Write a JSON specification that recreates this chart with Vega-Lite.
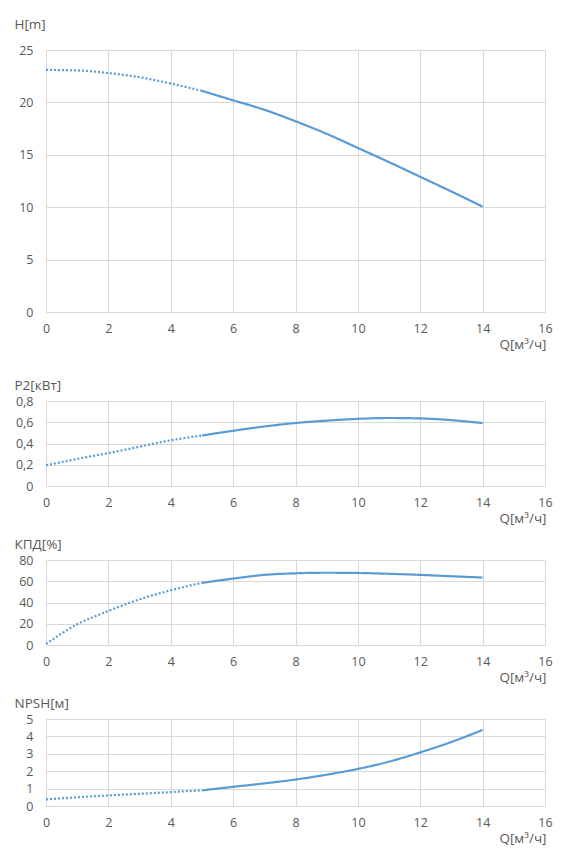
{
  "$schema": "https://vega.github.io/schema/vega-lite/v6.json",
  "background": "white",
  "padding": {"left": 14, "top": 17, "right": 5, "bottom": 5},
  "config": {
    "view": {"stroke": null},
    "font": "Open Sans",
    "axis": {
      "grid": true,
      "gridColor": "#d9d9d9",
      "gridWidth": 1,
      "domain": false,
      "ticks": false,
      "labelColor": "#595959",
      "titleColor": "#595959",
      "labelFont": "Open Sans",
      "titleFont": "Open Sans",
      "labelFontSize": 12.5,
      "titleFontSize": 13.5,
      "titleFontWeight": "normal"
    },
    "axisX": {
      "labelFlush": false,
      "labelPadding": 10,
      "titleAlign": "right",
      "titleBaseline": "middle",
      "titleAnchor": null,
      "titleX": 500,
      "titleY": 32
    },
    "axisY": {
      "labelPadding": 13,
      "titleAngle": 0,
      "titleAlign": "left",
      "titleBaseline": "middle",
      "titleAnchor": null,
      "titleX": -32
    },
    "line": {"interpolate": "monotone", "strokeWidth": 2.2, "color": "#5b9bd5"}
  },
  "datasets": {
    "pump": [
      {"curve": "H", "part": "dot", "Q": 0, "v": 23.1},
      {"curve": "H", "part": "dot", "Q": 1, "v": 23.05},
      {"curve": "H", "part": "dot", "Q": 2, "v": 22.8},
      {"curve": "H", "part": "dot", "Q": 3, "v": 22.4},
      {"curve": "H", "part": "dot", "Q": 4, "v": 21.8},
      {"curve": "H", "part": "dot", "Q": 5, "v": 21.1},
      {"curve": "H", "part": "solid", "Q": 5, "v": 21.1},
      {"curve": "H", "part": "solid", "Q": 6, "v": 20.2},
      {"curve": "H", "part": "solid", "Q": 7, "v": 19.3},
      {"curve": "H", "part": "solid", "Q": 8, "v": 18.2},
      {"curve": "H", "part": "solid", "Q": 9, "v": 17.0},
      {"curve": "H", "part": "solid", "Q": 10, "v": 15.65},
      {"curve": "H", "part": "solid", "Q": 11, "v": 14.3},
      {"curve": "H", "part": "solid", "Q": 12, "v": 12.9},
      {"curve": "H", "part": "solid", "Q": 13, "v": 11.5},
      {"curve": "H", "part": "solid", "Q": 14, "v": 10.05},
      {"curve": "P2", "part": "dot", "Q": 0, "v": 0.195},
      {"curve": "P2", "part": "dot", "Q": 1, "v": 0.255},
      {"curve": "P2", "part": "dot", "Q": 2, "v": 0.31},
      {"curve": "P2", "part": "dot", "Q": 3, "v": 0.37},
      {"curve": "P2", "part": "dot", "Q": 4, "v": 0.43},
      {"curve": "P2", "part": "dot", "Q": 5, "v": 0.475},
      {"curve": "P2", "part": "solid", "Q": 5, "v": 0.475},
      {"curve": "P2", "part": "solid", "Q": 6, "v": 0.52},
      {"curve": "P2", "part": "solid", "Q": 7, "v": 0.56},
      {"curve": "P2", "part": "solid", "Q": 8, "v": 0.593},
      {"curve": "P2", "part": "solid", "Q": 9, "v": 0.615},
      {"curve": "P2", "part": "solid", "Q": 10, "v": 0.632},
      {"curve": "P2", "part": "solid", "Q": 11, "v": 0.64},
      {"curve": "P2", "part": "solid", "Q": 12, "v": 0.636},
      {"curve": "P2", "part": "solid", "Q": 13, "v": 0.62},
      {"curve": "P2", "part": "solid", "Q": 14, "v": 0.592},
      {"curve": "KPD", "part": "dot", "Q": 0, "v": 1},
      {"curve": "KPD", "part": "dot", "Q": 1, "v": 19.5},
      {"curve": "KPD", "part": "dot", "Q": 2, "v": 32},
      {"curve": "KPD", "part": "dot", "Q": 3, "v": 43},
      {"curve": "KPD", "part": "dot", "Q": 4, "v": 51.5},
      {"curve": "KPD", "part": "dot", "Q": 5, "v": 58.5},
      {"curve": "KPD", "part": "solid", "Q": 5, "v": 58.5},
      {"curve": "KPD", "part": "solid", "Q": 6, "v": 62.5},
      {"curve": "KPD", "part": "solid", "Q": 7, "v": 66},
      {"curve": "KPD", "part": "solid", "Q": 8, "v": 67.5},
      {"curve": "KPD", "part": "solid", "Q": 9, "v": 68},
      {"curve": "KPD", "part": "solid", "Q": 10, "v": 67.8},
      {"curve": "KPD", "part": "solid", "Q": 11, "v": 67},
      {"curve": "KPD", "part": "solid", "Q": 12, "v": 66},
      {"curve": "KPD", "part": "solid", "Q": 13, "v": 64.7},
      {"curve": "KPD", "part": "solid", "Q": 14, "v": 63.5},
      {"curve": "NPSH", "part": "dot", "Q": 0, "v": 0.38},
      {"curve": "NPSH", "part": "dot", "Q": 1, "v": 0.5},
      {"curve": "NPSH", "part": "dot", "Q": 2, "v": 0.61},
      {"curve": "NPSH", "part": "dot", "Q": 3, "v": 0.7},
      {"curve": "NPSH", "part": "dot", "Q": 4, "v": 0.8},
      {"curve": "NPSH", "part": "dot", "Q": 5, "v": 0.9},
      {"curve": "NPSH", "part": "solid", "Q": 5, "v": 0.9},
      {"curve": "NPSH", "part": "solid", "Q": 6, "v": 1.1},
      {"curve": "NPSH", "part": "solid", "Q": 7, "v": 1.3},
      {"curve": "NPSH", "part": "solid", "Q": 8, "v": 1.52},
      {"curve": "NPSH", "part": "solid", "Q": 9, "v": 1.8},
      {"curve": "NPSH", "part": "solid", "Q": 10, "v": 2.13},
      {"curve": "NPSH", "part": "solid", "Q": 11, "v": 2.55},
      {"curve": "NPSH", "part": "solid", "Q": 12, "v": 3.08},
      {"curve": "NPSH", "part": "solid", "Q": 13, "v": 3.68},
      {"curve": "NPSH", "part": "solid", "Q": 14, "v": 4.37}
    ]
  },
  "data": {"name": "pump"},
  "spacing": 27,
  "vconcat": [
    {
      "width": 499,
      "height": 262,
      "transform": [{"filter": "datum.curve == 'H'"}],
      "mark": {"type": "line"},
      "encoding": {
        "x": {"field": "Q", "type": "quantitative", "scale": {"domain": [0, 16]},
              "axis": {"values": [0, 2, 4, 6, 8, 10, 12, 14, 16], "title": "Q[м³/ч]"}},
        "y": {"field": "v", "type": "quantitative", "scale": {"domain": [0, 25]},
              "axis": {"values": [0, 5, 10, 15, 20, 25], "title": "H[m]", "titleY": -26}},
        "strokeDash": {"field": "part", "type": "nominal", "legend": null,
                       "scale": {"domain": ["dot", "solid"], "range": [[2, 2], [1, 0]]}}
      }
    },
    {
      "spacing": 12,
      "vconcat": [
        {
          "width": 499,
          "height": 85,
          "transform": [{"filter": "datum.curve == 'P2'"}],
          "mark": {"type": "line"},
          "encoding": {
            "x": {"field": "Q", "type": "quantitative", "scale": {"domain": [0, 16]},
                  "axis": {"values": [0, 2, 4, 6, 8, 10, 12, 14, 16], "title": "Q[м³/ч]"}},
            "y": {"field": "v", "type": "quantitative", "scale": {"domain": [0, 0.8]},
                  "axis": {"values": [0, 0.2, 0.4, 0.6, 0.8], "title": "P2[кВт]", "titleY": -16,
                           "labelExpr": "datum.value == 0 ? '0' : replace(format(datum.value, '.1f'), '.', ',')"}},
            "strokeDash": {"field": "part", "type": "nominal", "legend": null,
                           "scale": {"domain": ["dot", "solid"], "range": [[2, 2], [1, 0]]}}
          }
        },
        {
          "width": 499,
          "height": 85,
          "transform": [{"filter": "datum.curve == 'KPD'"}],
          "mark": {"type": "line"},
          "encoding": {
            "x": {"field": "Q", "type": "quantitative", "scale": {"domain": [0, 16]},
                  "axis": {"values": [0, 2, 4, 6, 8, 10, 12, 14, 16], "title": "Q[м³/ч]"}},
            "y": {"field": "v", "type": "quantitative", "scale": {"domain": [0, 80]},
                  "axis": {"values": [0, 20, 40, 60, 80], "title": "КПД[%]", "titleY": -16}},
            "strokeDash": {"field": "part", "type": "nominal", "legend": null,
                           "scale": {"domain": ["dot", "solid"], "range": [[2, 2], [1, 0]]}}
          }
        },
        {
          "width": 499,
          "height": 87,
          "transform": [{"filter": "datum.curve == 'NPSH'"}],
          "mark": {"type": "line"},
          "encoding": {
            "x": {"field": "Q", "type": "quantitative", "scale": {"domain": [0, 16]},
                  "axis": {"values": [0, 2, 4, 6, 8, 10, 12, 14, 16], "title": "Q[м³/ч]"}},
            "y": {"field": "v", "type": "quantitative", "scale": {"domain": [0, 5]},
                  "axis": {"values": [0, 1, 2, 3, 4, 5], "title": "NPSH[м]", "titleY": -16}},
            "strokeDash": {"field": "part", "type": "nominal", "legend": null,
                           "scale": {"domain": ["dot", "solid"], "range": [[2, 2], [1, 0]]}}
          }
        }
      ]
    }
  ]
}
